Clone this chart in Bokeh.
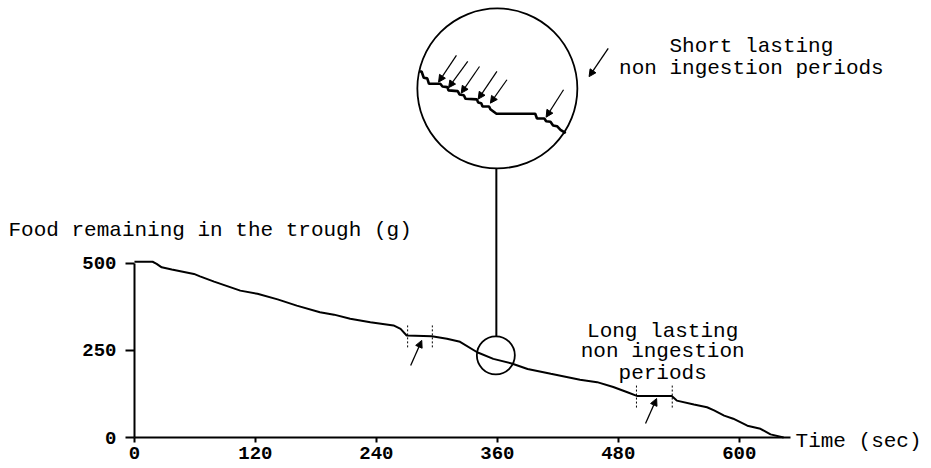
from bokeh.plotting import figure
from bokeh.models import Range1d, Label, Arrow, NormalHead, FixedTicker
from bokeh.embed import file_html
from bokeh.resources import INLINE

# ---- data ----
time_s = [0, 18, 22, 27, 37, 59, 65, 79, 92, 105, 122, 142, 161, 184, 198, 214,
          234, 257, 264, 270, 295, 310, 323, 340, 356, 375, 390, 413, 442, 459,
          475, 489, 499, 533, 538, 555, 568, 575, 585, 594, 608, 621, 631, 644]
food_g = [505, 505, 499, 489, 483, 470, 463, 448, 435, 422, 413, 397, 379, 360, 353, 341,
          331, 322, 312, 293, 291, 284, 275, 245, 226, 212, 197, 183, 166, 159,
          145, 130, 119, 119, 106, 95, 87, 78, 63, 54, 34, 25, 9, 0]

# magnified view (inset) around t = 358 s
zoom_time_s = [340.2, 340.6, 341.1, 341.9, 342.3, 344.9, 345.4, 346.5, 346.8, 348.9,
               349.3, 350.3, 350.7, 353.3, 353.6, 354.3, 354.6, 356.1, 356.4, 357.8,
               366.7, 367.1, 368.8, 369.2, 370.2, 370.8, 371.7, 372.5, 373.7]
zoom_food_g = [244.3, 244.3, 240.1, 239.7, 236.1, 236.1, 234.3, 233.9, 231.7, 231.2,
               229.0, 228.5, 226.1, 225.7, 223.7, 223.2, 221.0, 221.0, 219.2, 216.2,
               216.2, 213.0, 213.0, 211.2, 210.8, 208.4, 207.9, 205.5, 203.3]

x_ticks = [0, 120, 240, 360, 480, 600]
y_ticks = [0, 250, 500]

FONT = "Liberation Mono"

W, H = 930, 467
X0, Y0 = -132.9, -86.2
X1, Y1 = 789.7, 1255.7
p = figure(width=W, height=H, output_backend="svg", toolbar_location=None,
           x_range=Range1d(X0, X1), y_range=Range1d(Y0, Y1),
           min_border_left=0, min_border_right=0, min_border_top=0, min_border_bottom=0)
p.outline_line_color = None
p.grid.visible = False

# inset coordinate system (magnification M, small circle centre -> big circle centre)
M = 4.32
ZC_T, ZC_G = 358.0, 233.0
BC_T, BC_G = 360.0, 1003.0
p.extra_x_ranges = {"zx": Range1d(ZC_T + (X0 - BC_T) / M, ZC_T + (X1 - BC_T) / M)}
p.extra_y_ranges = {"zy": Range1d(ZC_G + (Y0 - BC_G) / M, ZC_G + (Y1 - BC_G) / M)}

for ax in (p.xaxis, p.yaxis):
    ax.fixed_location = 0
    ax.axis_line_width = 2
    ax.axis_line_color = "black"
    ax.major_tick_line_width = 2
    ax.major_tick_in = 0
    ax.minor_tick_line_color = None
    ax.major_label_text_font = FONT
    ax.major_label_text_font_style = "bold"
    ax.major_label_text_font_size = "19px"
    ax.major_label_text_color = "black"

p.xaxis.ticker = FixedTicker(ticks=x_ticks)
p.xaxis.bounds = (0, 651)
p.xaxis.major_tick_out = 5
p.xaxis.major_label_standoff = 4

p.yaxis.ticker = FixedTicker(ticks=y_ticks)
p.yaxis.bounds = (0, 500)
p.yaxis.major_tick_out = 9
p.yaxis.major_label_standoff = 9

# main curve
p.line(time_s, food_g, line_color="black", line_width=2)

# inset curve
p.line(zoom_time_s, zoom_food_g, line_color="black", line_width=2.6,
       x_range_name="zx", y_range_name="zy")

# circles and connector
p.scatter(x=[358.5], y=[236], size=38, marker="circle", fill_color=None,
          line_color="black", line_width=1.8)
p.scatter(x=[BC_T], y=[BC_G], size=160, marker="circle", fill_color=None,
          line_color="black", line_width=1.8)
p.segment(x0=[359], y0=[291], x1=[359], y1=[773], line_color="black", line_width=2)

# dotted delimiters of non-ingestion periods
p.segment(x0=[271, 295.5, 498, 533.5], y0=[259, 259, 86, 86],
          x1=[271, 295.5, 498, 533.5], y1=[322, 322, 155, 155],
          line_color="black", line_width=1, line_dash="2 2")

def arrow(x0, y0, x1, y1, lw=1.3, hs=7, **kw):
    p.add_layout(Arrow(end=NormalHead(size=hs, fill_color="black", line_color="black", line_width=1),
                       x_start=x0, y_start=y0, x_end=x1, y_end=y1,
                       line_color="black", line_width=lw, **kw))

arrow(274, 207, 285, 279)
arrow(507, 40, 518, 112)
arrow(470, 1118, 451, 1037)

inset_arrows = [(348.6, 255.0, 344.5, 237.2), (351.2, 251.0, 346.8, 233.5),
                (353.9, 247.6, 349.7, 229.9), (357.9, 244.3, 353.6, 225.9),
                (360.2, 238.8, 356.4, 223.2), (373.2, 232.1, 369.2, 213.9)]
for a in inset_arrows:
    arrow(*a, lw=1.2, hs=7, x_range_name="zx", y_range_name="zy")

def label(x, y, text, align="left"):
    p.add_layout(Label(x=x, y=y, text=text, text_font=FONT, text_font_size="21px",
                       text_color="black", text_align=align, text_baseline="alphabetic"))

label(-125, 595, "Food remaining in the trough (g)")
label(655.8, -12, "Time (sec)")
label(612, 1123, "Short lasting", "center")
label(612, 1060, "non ingestion periods", "center")
label(524, 305, "Long lasting", "center")
label(524, 246, "non ingestion", "center")
label(524, 183, "periods", "center")

open("out.html", "w").write(file_html(p, INLINE))
